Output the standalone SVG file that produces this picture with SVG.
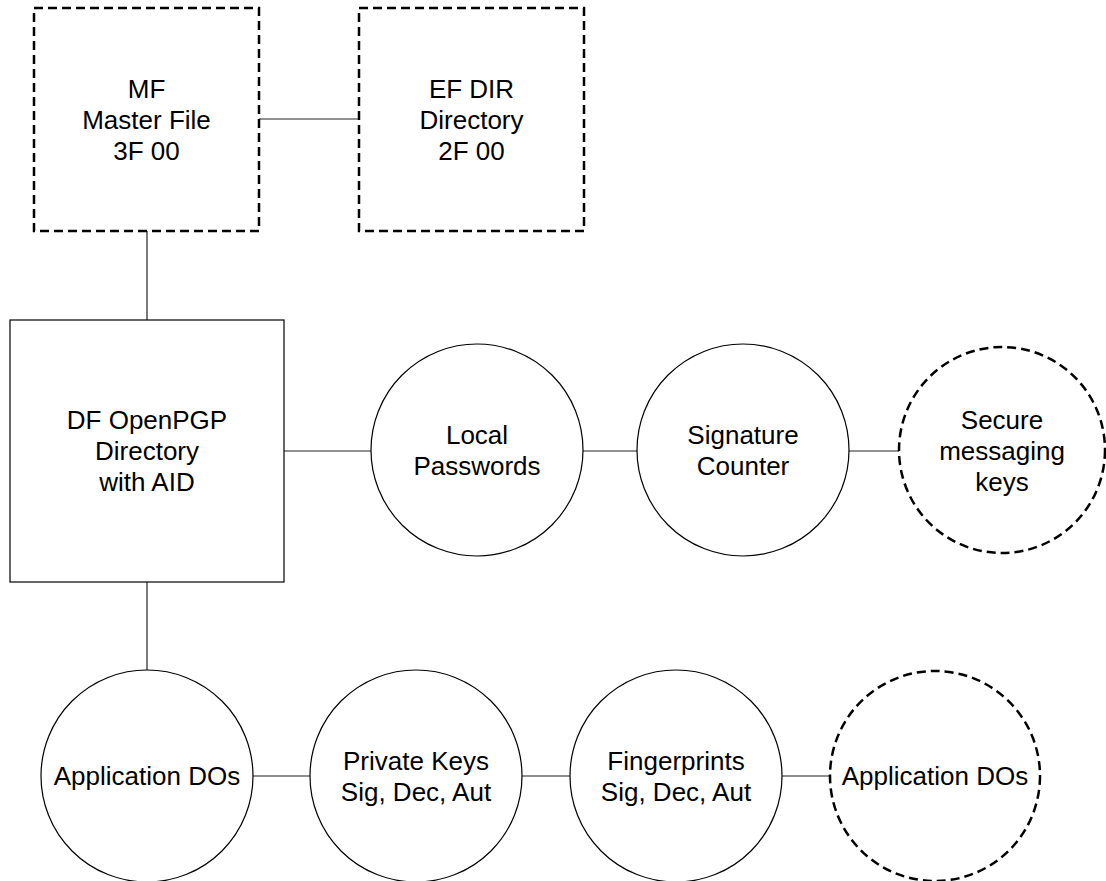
<svg xmlns="http://www.w3.org/2000/svg" width="1106" height="881" viewBox="0 0 1106 881">
<style>
.solid{fill:#fff;stroke:#000;stroke-width:1.2}
.dash{fill:#fff;stroke:#000;stroke-width:2.5;stroke-dasharray:9 5}
.conn{stroke:#222;stroke-width:1.2;fill:none}
text{font-family:"Liberation Sans",Arial,sans-serif;font-size:26px;fill:#000;text-anchor:middle}
</style>
<rect width="1106" height="881" fill="#fff"/>
<g id="connectors">
<line class="conn" x1="259" y1="119" x2="359" y2="119"/>
<line class="conn" x1="147" y1="231" x2="147" y2="320"/>
<line class="conn" x1="284" y1="451" x2="371" y2="451"/>
<line class="conn" x1="583" y1="451" x2="637" y2="451"/>
<line class="conn" x1="849" y1="451" x2="899" y2="451"/>
<line class="conn" x1="147" y1="582" x2="147" y2="670"/>
<line class="conn" x1="253" y1="776" x2="310" y2="776"/>
<line class="conn" x1="522" y1="776" x2="570" y2="776"/>
<line class="conn" x1="782" y1="776" x2="829" y2="776"/>
</g>
<g id="mf">
<rect class="dash" x="34" y="8" width="225" height="223"/>
<text x="146.5" y="98">MF</text>
<text x="146.5" y="129">Master File</text>
<text x="146.5" y="160">3F 00</text>
</g>
<g id="efdir">
<rect class="dash" x="359" y="8" width="225" height="223"/>
<text x="471.5" y="98">EF DIR</text>
<text x="471.5" y="129">Directory</text>
<text x="471.5" y="160">2F 00</text>
</g>
<g id="dfopenpgp">
<rect class="solid" x="10" y="320" width="274" height="262"/>
<text x="147" y="429">DF OpenPGP</text>
<text x="147" y="460">Directory</text>
<text x="147" y="491">with AID</text>
</g>
<g id="localpw">
<circle class="solid" cx="477" cy="450" r="106"/>
<text x="477" y="444">Local</text>
<text x="477" y="475">Passwords</text>
</g>
<g id="sigcounter">
<circle class="solid" cx="743" cy="450" r="106"/>
<text x="743" y="444">Signature</text>
<text x="743" y="475">Counter</text>
</g>
<g id="smkeys">
<circle class="dash" cx="1002" cy="450" r="103"/>
<text x="1002" y="429">Secure</text>
<text x="1002" y="460">messaging</text>
<text x="1002" y="491">keys</text>
</g>
<g id="appdos">
<circle class="solid" cx="147" cy="776" r="106"/>
<text x="147" y="785">Application DOs</text>
</g>
<g id="privkeys">
<circle class="solid" cx="416" cy="776" r="106"/>
<text x="416" y="770">Private Keys</text>
<text x="416" y="801">Sig, Dec, Aut</text>
</g>
<g id="fingerprints">
<circle class="solid" cx="676" cy="776" r="106"/>
<text x="676" y="770">Fingerprints</text>
<text x="676" y="801">Sig, Dec, Aut</text>
</g>
<g id="appdos2">
<circle class="dash" cx="935" cy="776" r="105"/>
<text x="935" y="785">Application DOs</text>
</g>
</svg>
